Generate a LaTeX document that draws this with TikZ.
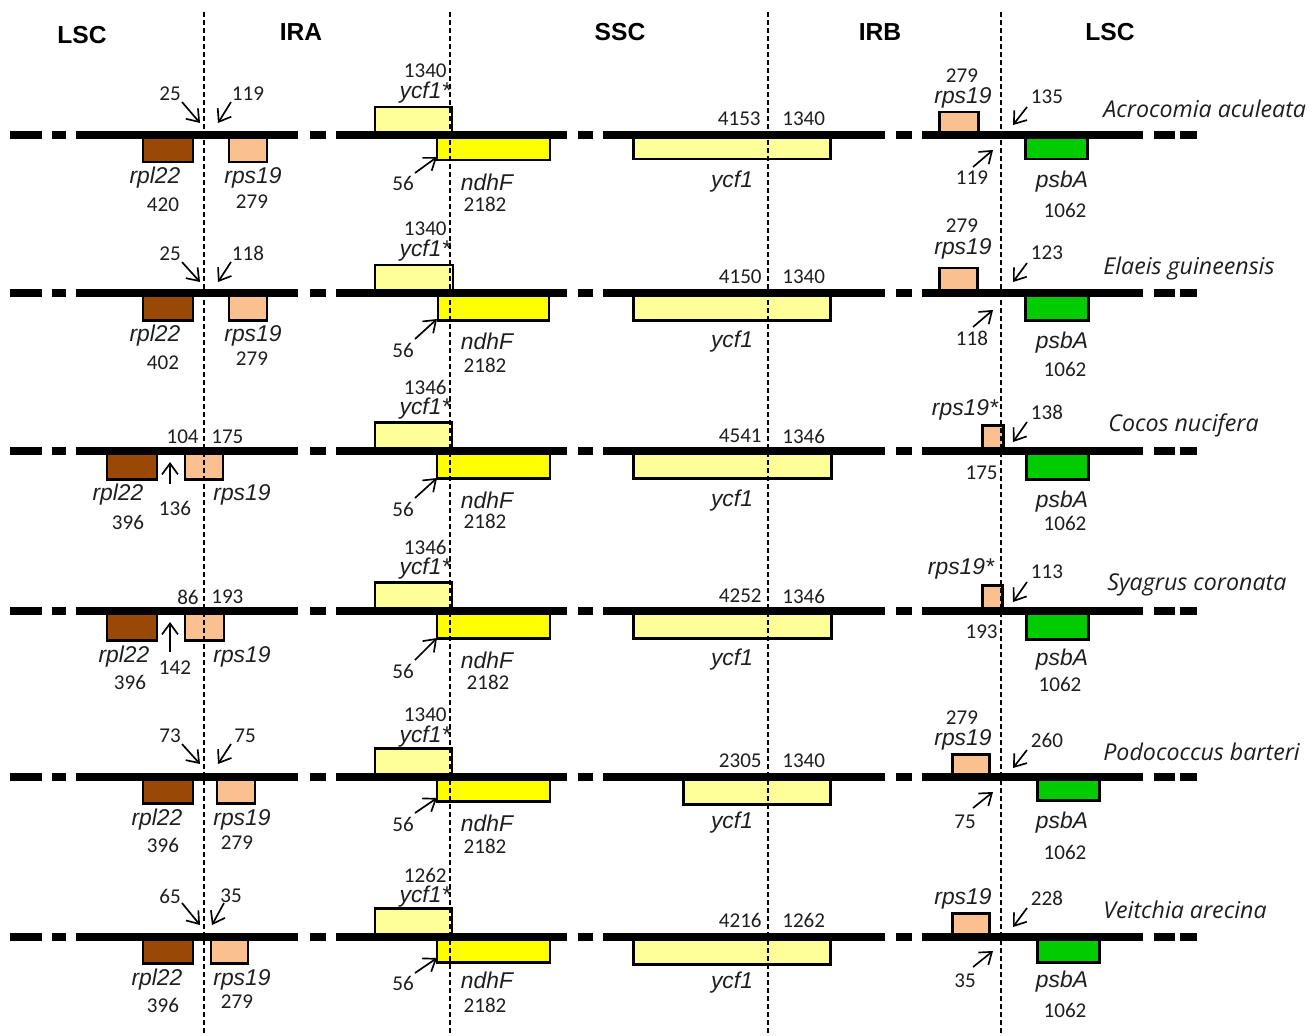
\documentclass[tikz,border=0pt]{standalone}
\usepackage{fontspec}
\setmainfont{Liberation Sans}
\newfontfamily\numf{Carlito}
\newfontfamily\spf{Open Sans}
\usetikzlibrary{arrows.meta}
\definecolor{cRpl}{RGB}{153,72,6}
\definecolor{cRps}{RGB}{250,192,143}
\definecolor{cYcf}{RGB}{255,255,153}
\definecolor{cNdh}{RGB}{255,255,0}
\definecolor{cPsb}{RGB}{0,204,0}
\definecolor{cTxt}{RGB}{30,30,30}
\newcounter{lbc}
\newcounter{ptc}
\newcommand\nm[3][]{\stepcounter{lbc}\node[numlbl,#1] (n\thelbc) at (#2) {#3};}
\newcommand\gn[3][]{\stepcounter{lbc}\node[genelbl,#1] (n\thelbc) at (#2) {#3};}
\newcommand\ptr[2]{\stepcounter{ptc}\coordinate (p\theptc s) at (#1);\coordinate (p\theptc e) at (#2);\draw[ptrline] (p\theptc s) -- (p\theptc e);}
\newcommand\gbox[3]{\draw[genebox,fill=#1] (#2) rectangle (#3);}
\newcommand\backbone{\foreach \a/\b in {10/42,52/66,76/298,310/326,336/567,578/593,603/885,896/912,922/1143,1154/1175,1180/1197}{\draw[bbline] (\a,0) -- (\b,0);}}
\newcommand\species[2]{\stepcounter{lbc}\node[splbl] (n\thelbc) at (#1) {#2};}
\begin{document}
\begin{tikzpicture}[x=0.02cm,y=-0.02cm,
  numlbl/.style={inner sep=0pt,text=cTxt,font=\numf\fontsize{12}{14}\selectfont},
  genelbl/.style={inner sep=0pt,text=cTxt,font=\fontsize{13}{15}\selectfont\itshape},
  splbl/.style={inner sep=0pt,anchor=west,text=cTxt,font=\spf\itshape\fontsize{13.2}{15}\selectfont},
  hdr/.style={inner sep=0pt,font=\bfseries\fontsize{14}{16}\selectfont},
  genebox/.style={line width=1.7pt,draw=black},
  bbline/.style={line width=5pt,line cap=butt},
  ptrline/.style={line width=0.95pt,-{Straight Barb[length=2.2mm,width=3.2mm]}},
  bound/.style={line width=0.7pt,dash pattern=on 1mm off 0.6mm}]
\useasboundingbox (0,0) rectangle (1312,1035);
% headers
\node[hdr] (hLSC1) at (82,35) {LSC};
\node[hdr] (hIRA) at (301,32) {IRA};
\node[hdr] (hSSC) at (620,32) {SSC};
\node[hdr] (hIRB) at (880,32) {IRB};
\node[hdr] (hLSC2) at (1110,32) {LSC};
% ---------- Row 1: Acrocomia aculeata
\begin{scope}[shift={(0,135)}]
\gbox{cRpl}{143,0}{193,27}
\gbox{cRps}{229,0}{267,27}
\gbox{cYcf}{375,-28}{452,0}
\gbox{cNdh}{437,0}{550,25}
\gbox{cYcf}{633,0}{830,24}
\gbox{cRps}{939,-23}{978,0}
\gbox{cPsb}{1025,0}{1087,24}
\backbone
\gn{155,43}{rpl22} \nm{163,70}{420}
\gn{253,43}{rps19} \nm{252,67}{279}
\nm{170,-41}{25} \ptr{182,-33}{200,-12}
\nm{248,-41}{119} \ptr{231,-33}{218,-12}
\nm[anchor=east]{447,-64}{1340} \gn{425,-42}{ycf1*}
\nm{403,48}{56} \ptr{415,38}{437,22}
\gn{487,47}{ndhF} \nm{485,69}{2182}
\nm[anchor=east]{761,-16}{4153} \nm[anchor=west]{782,-16}{1340}
\gn{732,47}{ycf1}
\nm{962,-59}{279} \gn{963,-37}{rps19}
\nm{1047,-38}{135} \ptr{1027,-28}{1013,-10}
\nm{972,43}{119} \ptr{973,32}{993,15}
\gn{1062,47}{psbA} \nm{1065,75}{1062}
\species{1103,-26}{Acrocomia aculeata}
\end{scope}
% ---------- Row 2: Elaeis guineensis
\begin{scope}[shift={(0,293)}]
\gbox{cRpl}{143,0}{193,27}
\gbox{cRps}{229,0}{267,27}
\gbox{cYcf}{375,-28}{453,0}
\gbox{cNdh}{438,0}{549,27}
\gbox{cYcf}{633,0}{830,27}
\gbox{cRps}{939,-25}{977,0}
\gbox{cPsb}{1025,0}{1088,27}
\backbone
\gn{155,43}{rpl22} \nm{163,70}{402}
\gn{253,43}{rps19} \nm{252,66}{279}
\nm{170,-39}{25} \ptr{182,-31}{200,-11}
\nm{248,-40}{118} \ptr{231,-31}{218,-11}
\nm[anchor=east]{447,-64}{1340} \gn{425,-42}{ycf1*}
\nm{403,57}{56} \ptr{415,46}{437,26}
\gn{487,48}{ndhF} \nm{485,72}{2182}
\nm[anchor=east]{762,-16}{4150} \nm[anchor=west]{782,-16}{1340}
\gn{732,49}{ycf1}
\nm{962,-67}{279} \gn{963,-44}{rps19}
\nm{1047,-40}{123} \ptr{1027,-30}{1013,-11}
\nm{972,45}{118} \ptr{973,34}{993,17}
\gn{1062,50}{psbA} \nm{1065,76}{1062}
\species{1103,-25}{Elaeis guineensis}
\end{scope}
% ---------- Row 3: Cocos nucifera
\begin{scope}[shift={(0,451)}]
\gbox{cRpl}{107,0}{157,28}
\gbox{cRps}{185,0}{223,28}
\gbox{cYcf}{375,-29}{452,0}
\gbox{cNdh}{437,0}{550,27}
\gbox{cYcf}{633,0}{831,27}
\gbox{cRps}{982,-26}{1003,0}
\gbox{cPsb}{1026,0}{1088,28}
\backbone
\gn{118,44}{rpl22} \nm{128,71}{396}
\gn{242,44}{rps19}
\nm[anchor=east]{199,-14}{104} \nm[anchor=west]{211,-14}{175}
\nm{175,57}{136} \ptr{170,33}{170,11}
\nm[anchor=east]{447,-64}{1346} \gn{425,-42}{ycf1*}
\nm{403,58}{56} \ptr{415,47}{437,27}
\gn{487,49}{ndhF} \nm{485,70}{2182}
\nm[anchor=east]{762,-15}{4541} \nm[anchor=west]{782,-15}{1346}
\gn{732,50}{ycf1}
\gn{965,-41}{rps19*}
\nm{1047,-39}{138} \ptr{1027,-29}{1013,-9}
\nm[anchor=east]{998,22}{175}
\gn{1062,51}{psbA} \nm{1065,72}{1062}
\species{1108,-26}{Cocos nucifera}
\end{scope}
% ---------- Row 4: Syagrus coronata
\begin{scope}[shift={(0,611)}]
\gbox{cRpl}{107,0}{157,29}
\gbox{cRps}{185,0}{224,29}
\gbox{cYcf}{375,-29}{452,0}
\gbox{cNdh}{437,0}{550,27}
\gbox{cYcf}{633,0}{831,27}
\gbox{cRps}{982,-26}{1002,0}
\gbox{cPsb}{1026,0}{1088,28}
\backbone
\gn{124,46}{rpl22} \nm{130,71}{396}
\gn{242,46}{rps19}
\nm[anchor=east]{199,-14}{86} \nm[anchor=west]{211,-14}{193}
\nm{175,57}{142} \ptr{170,41}{170,11}
\nm[anchor=east]{447,-64}{1346} \gn{425,-42}{ycf1*}
\nm{403,60}{56} \ptr{415,49}{437,27}
\gn{487,49}{ndhF} \nm{488,71}{2182}
\nm[anchor=east]{762,-15}{4252} \nm[anchor=west]{782,-15}{1346}
\gn{732,49}{ycf1}
\gn{961,-42}{rps19*}
\nm{1047,-39}{113} \ptr{1027,-29}{1013,-9}
\nm[anchor=east]{998,21}{193}
\gn{1062,49}{psbA} \nm{1060,73}{1062}
\species{1107,-26}{Syagrus coronata}
\end{scope}
% ---------- Row 5: Podococcus barteri
\begin{scope}[shift={(0,777)}]
\gbox{cRpl}{143,0}{193,26}
\gbox{cRps}{217,0}{255,26}
\gbox{cYcf}{375,-29}{452,0}
\gbox{cNdh}{437,0}{550,24}
\gbox{cYcf}{683,0}{830,27}
\gbox{cRps}{952,-23}{989,0}
\gbox{cPsb}{1037,0}{1099,23}
\backbone
\gn{157,43}{rpl22} \nm{163,68}{396}
\gn{242,43}{rps19} \nm{237,66}{279}
\nm{170,-41}{73} \ptr{182,-33}{200,-13}
\nm{245,-41}{75} \ptr{231,-33}{218,-13}
\nm[anchor=east]{447,-62}{1340} \gn{425,-40}{ycf1*}
\nm{403,47}{56} \ptr{415,36}{437,21}
\gn{487,46}{ndhF} \nm{485,69}{2182}
\nm[anchor=east]{762,-16}{2305} \nm[anchor=west]{782,-16}{1340}
\gn{732,46}{ycf1}
\nm{962,-59}{279} \gn{963,-37}{rps19}
\nm{1047,-37}{260} \ptr{1027,-27}{1013,-9}
\nm{965,45}{75} \ptr{973,31}{993,15}
\gn{1062,46}{psbA} \nm{1065,75}{1062}
\species{1103,-25}{Podococcus barteri}
\end{scope}
% ---------- Row 6: Veitchia arecina
\begin{scope}[shift={(0,937)}]
\gbox{cRpl}{143,0}{193,26}
\gbox{cRps}{211,0}{248,26}
\gbox{cYcf}{375,-29}{452,0}
\gbox{cNdh}{437,0}{550,25}
\gbox{cYcf}{633,0}{830,27}
\gbox{cRps}{952,-24}{989,0}
\gbox{cPsb}{1037,0}{1099,25}
\backbone
\gn{157,43}{rpl22} \nm{163,68}{396}
\gn{242,43}{rps19} \nm{237,65}{279}
\nm{170,-41}{65} \ptr{182,-34}{200,-12}
\nm{231,-41}{35} \ptr{224,-34}{212,-12}
\nm[anchor=east]{447,-62}{1262} \gn{425,-40}{ycf1*}
\nm{403,46}{56} \ptr{415,36}{437,21}
\gn{487,43}{ndhF} \nm{485,68}{2182}
\nm[anchor=east]{762,-17}{4216} \nm[anchor=west]{782,-17}{1262}
\gn{732,46}{ycf1}
\gn{963,-38}{rps19}
\nm{1047,-39}{228} \ptr{1027,-29}{1013,-10}
\nm{965,44}{35} \ptr{973,30}{993,14}
\gn{1062,45}{psbA} \nm{1065,73}{1062}
\species{1103,-27}{Veitchia arecina}
\end{scope}
% ---------- region boundaries
\foreach \xx/\nn in {204/bA,450/bB,768/bC,1001/bD}{
  \coordinate (\nn t) at (\xx,12);
  \coordinate (\nn b) at (\xx,1035);
  \draw[bound] (\nn t) -- (\nn b);
}
\end{tikzpicture}
\end{document}
